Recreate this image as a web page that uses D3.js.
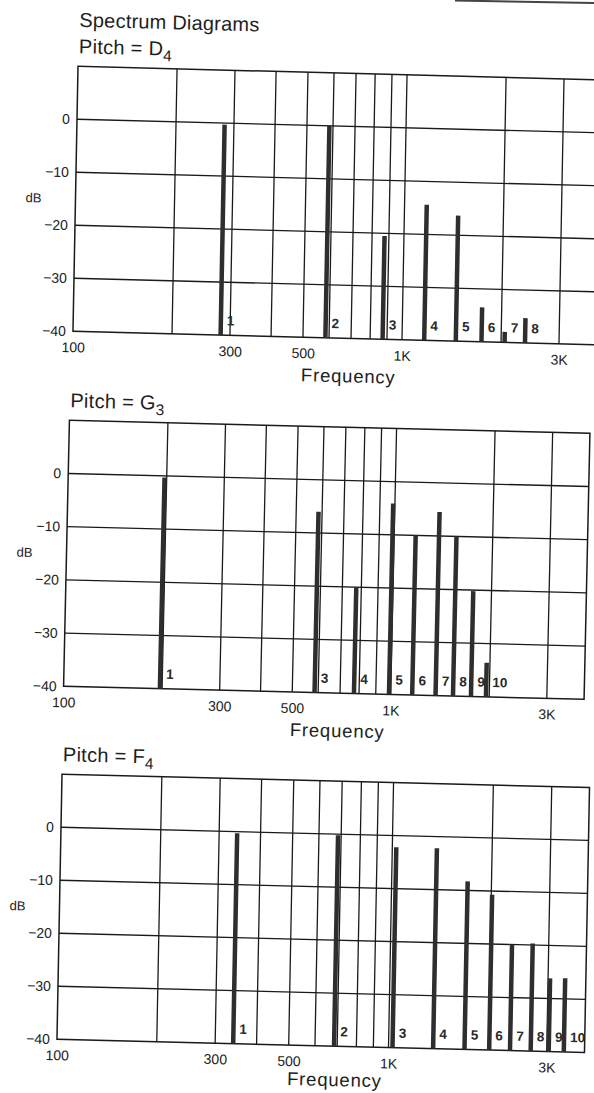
<!DOCTYPE html>
<html>
<head>
<meta charset="utf-8">
<title>Spectrum Diagrams</title>
<script src="https://cdn.jsdelivr.net/npm/d3@7"></script>
<style>
  body { margin: 0; background: #fff; }
  svg { display: block; font-family: "Liberation Sans", Arial, sans-serif; }
</style>
</head>
<body>
<div id="chart"></div>
<script>
// harmonic number, frequency (Hz) and level (dB) of each partial
const d4Harmonics = [1, 2, 3, 4, 5, 6, 7, 8];
const d4Freq = [281, 585, 873, 1168, 1457, 1744, 2050, 2365];
const d4Db = [-0.3, 0, -20.5, -14.4, -16.3, -33.5, -38, -35.3];

const g3Harmonics = [1, 3, 4, 5, 6, 7, 8, 9, 10];
const g3Freq = [197, 585, 772, 988, 1163, 1371, 1550, 1759, 1955];
const g3Db = [-0.3, -6, -20, -4.1, -10, -5.5, -10, -20.2, -33.6];

const f4Harmonics = [1, 2, 3, 4, 5, 6, 7, 8, 9, 10];
const f4Freq = [340, 685, 1028, 1363, 1695, 2012, 2325, 2684, 3042, 3378];
const f4Db = [-0.3, -0.2, -2.2, -2.2, -8.3, -10.7, -20, -19.7, -26.2, -26.1];

// axes
const freqDomain = [100, 3900];
const dbDomain = [-40, 10];
const gridFreqs = [200, 300, 400, 500, 600, 700, 800, 900, 1000, 2000, 3000];
const gridDb = [0, -10, -20, -30];
const xTickValues = [100, 300, 500, 1000, 3000];
const xTickLabels = ["100", "300", "500", "1K", "3K"];
const yTickValues = [0, -10, -20, -30, -40];
const yTickLabels = ["0", "\u221210", "\u221220", "\u221230", "\u221240"];

// page layout of the three diagrams (the scan is a little skewed)
const panels = [
  { note: "D", octave: "4", harmonics: d4Harmonics, freq: d4Freq, db: d4Db,
    left: 75.5, right: 599, top: 73, bottom: 338, cx: 335, cy: 205, kx: -0.019, ky: 0.026,
    xTitleGap: 44, heading: "Spectrum Diagrams" },
  { note: "G", octave: "3", harmonics: g3Harmonics, freq: g3Freq, db: g3Db,
    left: 66.5, right: 587, top: 427, bottom: 693, cx: 335, cy: 560, kx: -0.022, ky: 0.025,
    xTitleGap: 44 },
  { note: "F", octave: "4", harmonics: f4Harmonics, freq: f4Freq, db: f4Db,
    left: 59.5, right: 587, top: 781, bottom: 1046, cx: 330, cy: 913, kx: -0.019, ky: 0.025,
    xTitleGap: 40 }
];

const ink = "#1a1a1a";

const svg = d3.select("#chart").append("svg")
    .attr("width", 594)
    .attr("height", 1093);

// edge of the previous figure at the top of the page
svg.append("line")
    .attr("x1", 455).attr("y1", 0.5)
    .attr("x2", 594).attr("y2", 3)
    .attr("stroke", "#444")
    .attr("stroke-width", 2);

panels.forEach(function(p) {
  let g = svg.append("g")
      .attr("transform", "matrix(1," + p.ky + "," + p.kx + ",1," + (-p.kx * p.cy) + "," + (-p.ky * p.cx) + ")");

  let x = d3.scaleLog().domain(freqDomain).range([p.left, p.right]);
  let y = d3.scaleLinear().domain(dbDomain).range([p.bottom, p.top]);

  // grid
  g.selectAll("line.vgrid")
      .data(gridFreqs).enter()
      .append("line")
      .attr("class", "vgrid")
      .attr("x1", function(d) { return x(d); })
      .attr("x2", function(d) { return x(d); })
      .attr("y1", p.top)
      .attr("y2", p.bottom)
      .attr("stroke", ink)
      .attr("stroke-width", 1.3);

  g.selectAll("line.hgrid")
      .data(gridDb).enter()
      .append("line")
      .attr("class", "hgrid")
      .attr("x1", p.left)
      .attr("x2", p.right)
      .attr("y1", function(d) { return y(d); })
      .attr("y2", function(d) { return y(d); })
      .attr("stroke", ink)
      .attr("stroke-width", 1.3);

  g.append("rect")
      .attr("x", x(freqDomain[0]))
      .attr("y", y(dbDomain[1]))
      .attr("width", x(freqDomain[1]) - x(freqDomain[0]))
      .attr("height", y(dbDomain[0]) - y(dbDomain[1]))
      .attr("fill", "none")
      .attr("stroke", ink)
      .attr("stroke-width", 1.5);

  // partials
  let rows = p.harmonics.map(function(h, i) {
    return { h: h, f: p.freq[i], db: p.db[i] };
  });

  g.selectAll("line.bar")
      .data(rows).enter()
      .append("line")
      .attr("class", "bar")
      .attr("x1", function(d) { return x(d.f); })
      .attr("x2", function(d) { return x(d.f); })
      .attr("y1", y(dbDomain[0]))
      .attr("y2", function(d) { return y(d.db); })
      .attr("stroke", "#2e2e2e")
      .attr("stroke-width", 4.5);

  g.selectAll("text.num")
      .data(rows).enter()
      .append("text")
      .attr("class", "num")
      .attr("x", function(d) { return x(d.f) + 6; })
      .attr("y", y(dbDomain[0]) - 10)
      .attr("font-size", 13.5)
      .attr("font-weight", "bold")
      .attr("fill", "#2a2a2a")
      .text(function(d) { return d.h; });

  // axes
  let xAxis = d3.axisBottom(x)
      .tickValues(xTickValues)
      .tickFormat(function(d, i) { return xTickLabels[i]; })
      .tickSize(0)
      .tickPadding(11);

  let yAxis = d3.axisLeft(y)
      .tickValues(yTickValues)
      .tickFormat(function(d, i) { return yTickLabels[i]; })
      .tickSize(0)
      .tickPadding(7);

  let gx = g.append("g")
      .attr("transform", "translate(0," + p.bottom + ")")
      .call(xAxis);
  let gy = g.append("g")
      .attr("transform", "translate(" + p.left + ",0)")
      .call(yAxis);

  [gx, gy].forEach(function(a) {
    a.select(".domain").remove();
    a.attr("font-family", null)
      .attr("font-size", 14)
      .style("color", "#222");
  });

  g.append("text")
      .attr("x", p.left - 42)
      .attr("y", y(-15))
      .attr("dy", "0.35em")
      .attr("text-anchor", "middle")
      .attr("font-size", 13)
      .attr("fill", "#222")
      .text("dB");

  g.append("text")
      .attr("x", x(690))
      .attr("y", p.bottom + p.xTitleGap)
      .attr("text-anchor", "middle")
      .attr("font-size", 18.5)
      .attr("letter-spacing", 0.8)
      .attr("fill", "#1e1e1e")
      .text("Frequency");

  // titles
  if (p.heading) {
    g.append("text")
        .attr("x", p.left + 0.5)
        .attr("y", p.top - 39.5)
        .attr("font-size", 20)
        .attr("letter-spacing", 0.2)
        .attr("fill", "#1e1e1e")
        .text(p.heading);
  }

  let t = g.append("text")
      .attr("x", p.left + 0.5)
      .attr("y", p.top - 13)
      .attr("font-size", 20)
      .attr("letter-spacing", 0.3)
      .attr("fill", "#1e1e1e");
  t.append("tspan").text("Pitch = " + p.note);
  t.append("tspan")
      .attr("font-size", 15.5)
      .attr("dy", 5.5)
      .text(p.octave);
});
</script>
</body>
</html>
